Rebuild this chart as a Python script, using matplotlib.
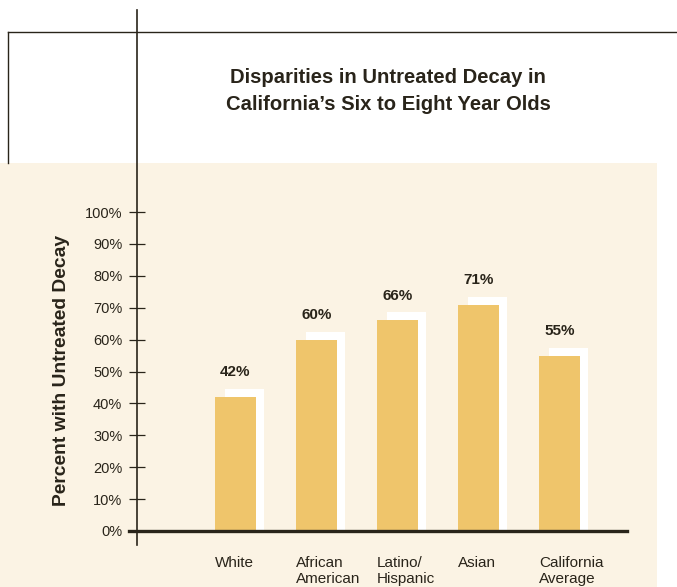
import matplotlib
matplotlib.use("Agg")
import matplotlib.pyplot as plt
from matplotlib.patches import Rectangle
from matplotlib.lines import Line2D

categories = ["White", "African\nAmerican", "Latino/\nHispanic", "Asian", "California\nAverage"]
values = [42, 60, 66, 71, 55]
value_labels = ["42%", "60%", "66%", "71%", "55%"]
yticks = [0, 10, 20, 30, 40, 50, 60, 70, 80, 90, 100]
ytick_labels = ["0%", "10%", "20%", "30%", "40%", "50%", "60%", "70%", "80%", "90%", "100%"]
title = "Disparities in Untreated Decay in\nCalifornia\u2019s Six to Eight Year Olds"
ylabel = "Percent with Untreated Decay"

FONT = ["Liberation Sans Narrow", "Liberation Sans", "DejaVu Sans"]
plt.rcParams["font.family"] = FONT

W, H = 677, 587
DPI = 100
fig = plt.figure(figsize=(W / DPI, H / DPI), dpi=DPI)
fig.patch.set_facecolor("white")

BAR = "#EFC56B"
CREAM = "#FBF3E4"
DARK = "#29241A"

def fx(px):
    return px / W

def fy(py):
    return 1 - py / H

# cream panel
fig.patches.append(Rectangle((0, 0), fx(657), fy(163), transform=fig.transFigure,
                             facecolor=CREAM, edgecolor="none", zorder=-5))
# frame lines
fig.lines.append(Line2D([fx(8), 1], [fy(32), fy(32)], transform=fig.transFigure, color=DARK, lw=1.0, zorder=-4))
fig.lines.append(Line2D([fx(8), fx(8)], [fy(32), fy(163)], transform=fig.transFigure, color=DARK, lw=1.0, zorder=-4))

# axes: x from 137 to 627 px, y 0% at 531 px, 100% at 212 px
ax = fig.add_axes([fx(137), fy(531), fx(627) - fx(137), fy(212) - fy(531)])
ax.set_facecolor("none")
xpx0 = 235.5
step = 81.0
ax.set_xlim(-(xpx0 - 137) / step, (627 - xpx0) / step)
ax.set_ylim(0, 100)
for s in ax.spines.values():
    s.set_visible(False)

# vertical axis line extending beyond the axes
ax.plot([0, 0], [(531 - 545) / 319.0, (531 - 10) / 319.0], transform=ax.transAxes,
        color=DARK, lw=1.2, clip_on=False, zorder=5)

x = list(range(len(values)))
bw = 41 / step
# shadows
ax.bar([i + 0.111 for i in x], [v + 2.5 for v in values], width=0.482, color="white", zorder=2)
ax.bar(x, values, width=bw, color=BAR, zorder=3)

for i, v in enumerate(values):
    ax.text(i, v + 7.8, value_labels[i], ha="center", va="center", fontsize=11,
            fontweight="bold", color=DARK)

# x axis line
ax.plot([-0.017, 1], [0, 0], transform=ax.transAxes,
        color=DARK, lw=2.4, clip_on=False, zorder=4)

ax.set_yticks(yticks)
ax.set_yticklabels(ytick_labels, fontsize=10.5, color=DARK)
ax.tick_params(axis="y", direction="inout", length=12.2, width=0.9, color=DARK, pad=4.5)
ax.set_xticks([])

for i, c in enumerate(categories):
    ax.text(i - bw / 2, -7.8, c, ha="left", va="top", fontsize=11, color=DARK,
            linespacing=1.2)

fig.text(fx(388), fy(91), title, ha="center", va="center", fontsize=14.6,
         fontweight="bold", color=DARK, linespacing=1.55)
fig.text(fx(62), fy(370), ylabel, ha="center", va="center", rotation=90,
         fontsize=13.9, fontweight="bold", color=DARK)

fig.savefig("out.png", dpi=DPI)
